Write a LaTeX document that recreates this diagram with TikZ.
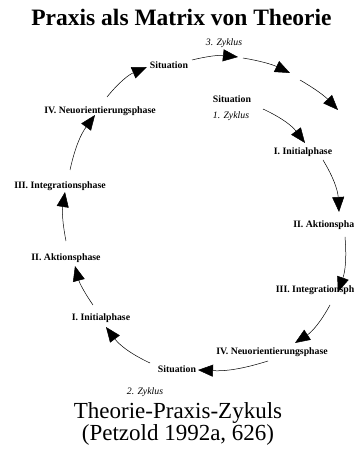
\documentclass[tikz,border=0pt]{standalone}
\usepackage{fontspec}
\setmainfont{Liberation Serif}
\usetikzlibrary{arrows.meta}
\tikzset{
  lbl/.style={font=\fontsize{9.8}{11}\selectfont\bfseries, inner sep=0pt},
  zyk/.style={font=\fontsize{9.8}{11}\selectfont\itshape, inner sep=0pt},
  arr/.style={line width=0.5pt, -{Triangle[length=15pt,width=12pt]}, bend left=#1},
  arr/.default=14
}
\begin{document}
\begin{tikzpicture}[x=1pt,y=1pt]
\useasboundingbox (0,0) rectangle (355,456);
\clip (0,0) rectangle (355,456);
% title and caption
\node[font=\fontsize{23.5}{26}\selectfont\bfseries, inner sep=0pt] (title) at (181.5,439) {Praxis als Matrix von Theorie};
\node[font=\fontsize{23}{25}\selectfont, inner sep=0pt] (cap1) at (178,43) {Theorie-Praxis-Zykuls};
\node[font=\fontsize{23}{25}\selectfont, inner sep=0pt] (cap2) at (178,21) {(Petzold 1992a, 626)};
% labels
\node[zyk] (z3) at (224,413) {3. Zyklus};
\node[lbl] (sitT) at (169,391) {Situation};
\node[lbl] (IVL) at (100,345) {IV. Neuorientierungsphase};
\node[lbl] (sit1) at (232,357) {Situation};
\node[zyk] (z1) at (231,340) {1. Zyklus};
\node[lbl] (IR) at (303,304) {I. Initialphase};
\node[lbl, anchor=east] (IIR) at (354.5,231) {II. Aktionspha};
\node[lbl, anchor=east] (IIIR) at (354.5,166) {III. Integrationsph};
\node[lbl] (IVB) at (272,104) {IV. Neuorientierungsphase};
\node[lbl] (sitB) at (177,87) {Situation};
\node[zyk] (z2) at (145,64) {2. Zyklus};
\node[lbl] (IL) at (101,138) {I. Initialphase};
\node[lbl] (IIL) at (66,198) {II. Aktionsphase};
\node[lbl] (IIIL) at (60,270) {III. Integrationsphase};
% arrow end points
\coordinate (a1s) at (107,359); \coordinate (a1e) at (147,389);
\coordinate (a2s) at (192,396); \coordinate (a2e) at (238,399);
\coordinate (a3s) at (243,398); \coordinate (a3e) at (290,383);
\coordinate (a4s) at (300,376); \coordinate (a4e) at (338,346);
\coordinate (a5s) at (263,347); \coordinate (a5e) at (305,313);
\coordinate (a6s) at (323,296); \coordinate (a6e) at (339,244);
\coordinate (a7s) at (345,219); \coordinate (a7e) at (338,164);
\coordinate (a8s) at (330,151); \coordinate (a8e) at (295,113);
\coordinate (a9s) at (268,95);  \coordinate (a9e) at (198,86);
\coordinate (a10s) at (150,93); \coordinate (a10e) at (106,129);
\coordinate (a11s) at (93,151); \coordinate (a11e) at (75,190);
\coordinate (a12s) at (66,215); \coordinate (a12e) at (65,264);
\coordinate (a13s) at (70,286); \coordinate (a13e) at (95,341);
% arrows
\draw[arr=14] (a1s) to (a1e);
\draw[arr=10] (a2s) to (a2e);
\draw[arr=8] (a3s) to (a3e);
\draw[arr=8] (a4s) to (a4e);
\draw[arr=14] (a5s) to (a5e);
\draw[arr=14] (a6s) to (a6e);
\draw[arr=12] (a7s) to (a7e);
\draw[arr=14] (a8s) to (a8e);
\draw[arr=10] (a9s) to (a9e);
\draw[arr=14] (a10s) to (a10e);
\draw[arr=10] (a11s) to (a11e);
\draw[arr=10] (a12s) to (a12e);
\draw[arr=12] (a13s) to (a13e);
\end{tikzpicture}
\end{document}
